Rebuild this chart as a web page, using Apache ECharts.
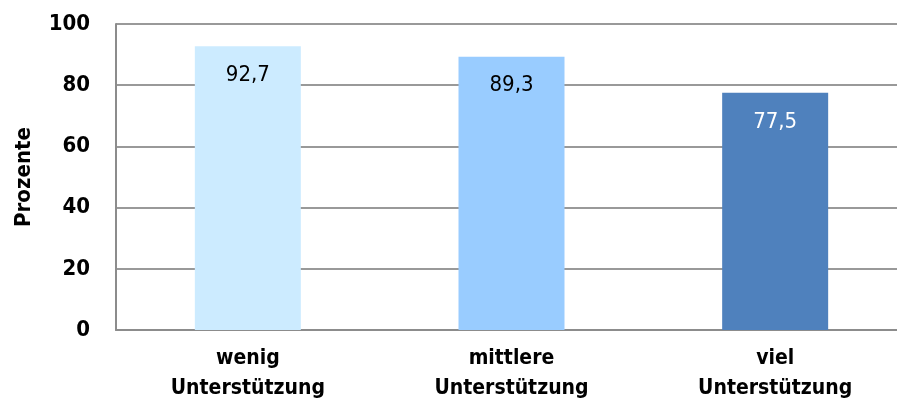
<!DOCTYPE html>
<html>
<head>
<meta charset="utf-8">
<script src="https://cdn.jsdelivr.net/npm/echarts@6/dist/echarts.min.js"></script>
<style>
  html, body { margin: 0; padding: 0; background: #fff; }
  #chart { width: 897px; height: 411px; }
</style>
</head>
<body>
<div id="chart"></div>
<script>
// Anteil in Prozent je Unterstützungsgrad
const categories = ['wenig\nUnterstützung', 'mittlere\nUnterstützung', 'viel\nUnterstützung'];
const values = [92.7, 89.3, 77.5];
const barColors = ['#CCEBFF', '#99CCFF', '#4F81BD'];
const labelColors = ['#000000', '#000000', '#FFFFFF'];
const yTicks = [0, 20, 40, 60, 80, 100];

const FONT = '"DejaVu Sans Condensed", "Liberation Sans Narrow", sans-serif';

const chart = echarts.init(document.getElementById('chart'), null, { renderer: 'canvas' });

chart.setOption({
  animation: false,
  backgroundColor: '#ffffff',
  // plot area runs slightly past the right edge of the canvas
  grid: { left: 116, width: 791, top: 24, bottom: 81, containLabel: false, outerBoundsMode: 'none' },
  xAxis: {
    type: 'category',
    data: categories,
    axisLine: { show: true, lineStyle: { color: '#8c8c8c', width: 2 } },
    axisTick: { show: false },
    axisLabel: {
      color: '#000', fontFamily: FONT, fontSize: 21, fontWeight: 'bold', lineHeight: 30, margin: 14,
      interval: 0
    }
  },
  yAxis: {
    type: 'value',
    min: yTicks[0],
    max: yTicks[yTicks.length - 1],
    interval: 20,
    name: 'Prozente',
    nameLocation: 'middle',
    nameGap: 81,
    nameRotate: 90,
    nameTextStyle: { color: '#000', fontFamily: FONT, fontSize: 22, fontWeight: 'bold' },
    axisLine: { show: true, lineStyle: { color: '#8c8c8c', width: 2 } },
    axisTick: { show: false },
    axisLabel: { color: '#000', fontFamily: FONT, fontSize: 22, fontWeight: 'bold', margin: 26 },
    splitLine: { show: true, lineStyle: { color: '#999999', width: 2 } }
  },
  series: [{
    type: 'bar',
    barWidth: 106,
    data: values.map((v, i) => ({
      value: v,
      itemStyle: { color: barColors[i] },
      label: { color: labelColors[i] }
    })),
    label: {
      show: true,
      position: 'insideTop',
      distance: 18,
      fontFamily: FONT,
      fontSize: 22,
      formatter: p => p.value.toFixed(1).replace('.', ',')
    }
  }]
});
</script>
</body>
</html>
